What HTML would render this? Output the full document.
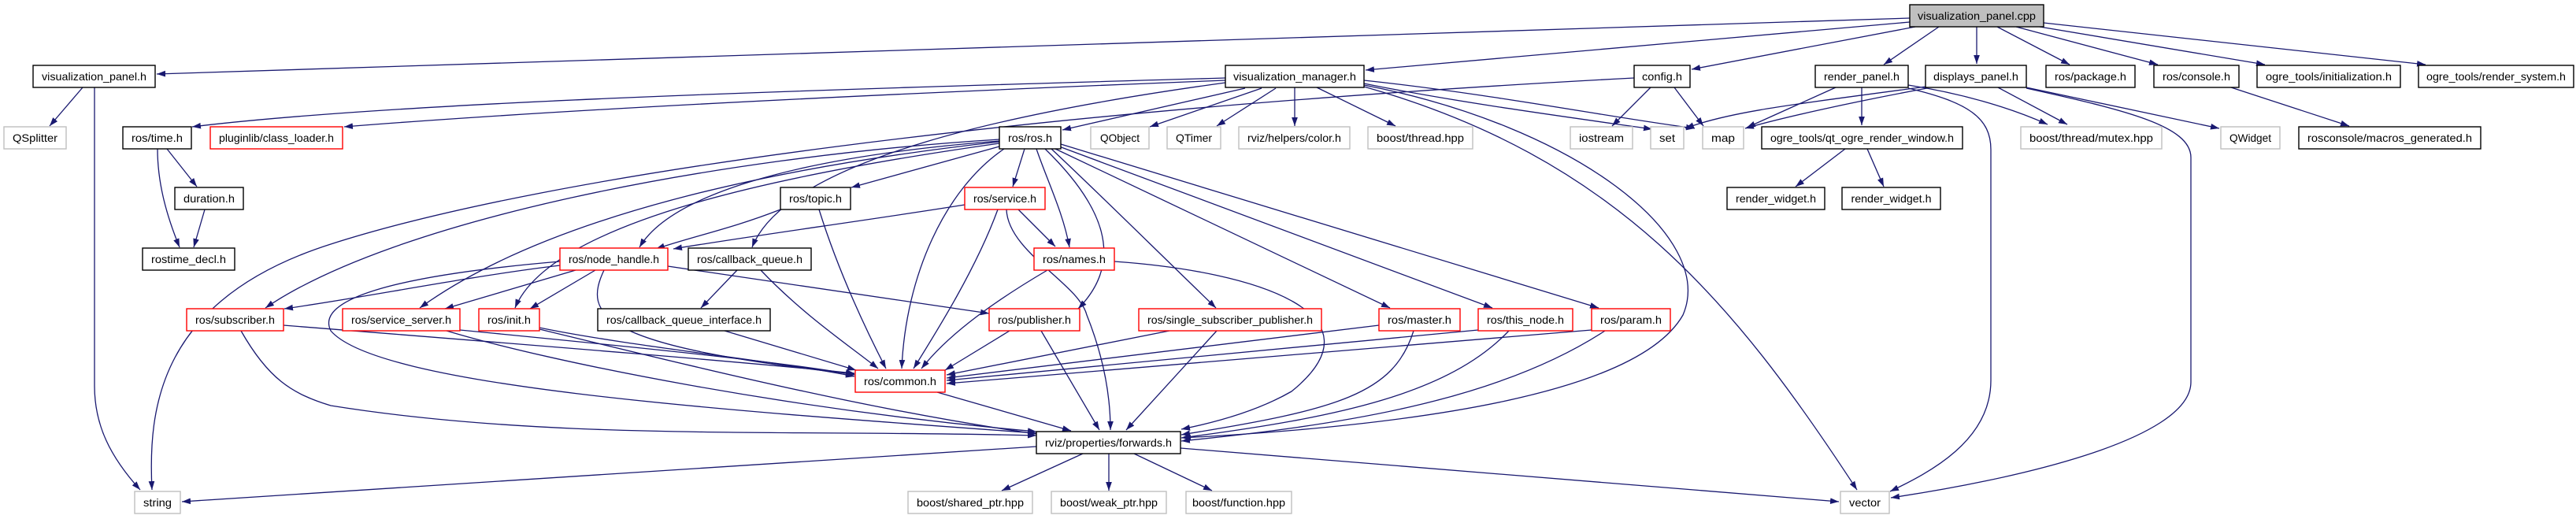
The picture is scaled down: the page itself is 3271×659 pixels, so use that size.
<!DOCTYPE html>
<html><head><meta charset="utf-8"><style>
html,body{margin:0;padding:0;background:#fff;}
svg{display:block;}
text{font-family:"Liberation Sans",sans-serif;font-size:14px;fill:#000;}
.e{fill:none;stroke:#191970;stroke-width:1.3;marker-end:url(#a);}
</style></head><body>
<svg width="3271" height="659" viewBox="0 0 3271 659" xmlns="http://www.w3.org/2000/svg">
<defs><marker id="a" markerUnits="userSpaceOnUse" viewBox="0 0 10 7" refX="10" refY="3.5" markerWidth="11" markerHeight="8" orient="auto"><path d="M0,0 L10,3.5 L0,7 z" fill="#191970"/></marker></defs>
<g>
<path class="e" d="M2425,23 L199,94"/>
<path class="e" d="M2425,28 L1734,89"/>
<path class="e" d="M2432,34 L2148,88"/>
<path class="e" d="M2462,34 L2392,82"/>
<path class="e" d="M2510,34 L2510,81"/>
<path class="e" d="M2536,34 L2628,82"/>
<path class="e" d="M2560,34 L2740,82"/>
<path class="e" d="M2590,34 L2876,82"/>
<path class="e" d="M2595,29 L3080,82"/>
<path class="e" d="M105,111 L63,160"/>
<path class="e" d="M120,111 L120,490 C120,540 140,580 178,622"/>
<path class="e" d="M1556,99 C1000,115 500,130 244,161"/>
<path class="e" d="M1556,102 C1100,120 700,140 437,161"/>
<path class="e" d="M1581,112 L1349,165"/>
<path class="e" d="M1602,112 L1460,161"/>
<path class="e" d="M1620,112 L1545,160"/>
<path class="e" d="M1556,105 C1300,140 1000,200 955,314"/>
<path class="e" d="M1644,111 L1644,160"/>
<path class="e" d="M1672,111 L1772,160"/>
<path class="e" d="M1732,106 C1850,130 2000,150 2098,164"/>
<path class="e" d="M1732,102 C1900,120 2050,150 2152,163"/>
<path class="e" d="M1732,108 C2000,160 2180,300 2137,400 C2080,500 1800,540 1501,556"/>
<path class="e" d="M1732,110 C2050,200 2200,380 2358,622"/>
<path class="e" d="M2096,111 L2047,160"/>
<path class="e" d="M2126,111 L2163,160"/>
<path class="e" d="M2075,99 C1300,140 700,220 420,310 C200,380 188,520 193,622"/>
<path class="e" d="M2331,111 L2218,162"/>
<path class="e" d="M2364,111 L2364,159"/>
<path class="e" d="M2423,108 C2500,120 2560,140 2600,158"/>
<path class="e" d="M2423,112 C2500,130 2528,150 2528,190 L2528,483 C2528,560 2450,600 2400,624"/>
<path class="e" d="M2445,110 C2300,130 2200,140 2140,163"/>
<path class="e" d="M2447,112 C2350,130 2260,150 2216,163"/>
<path class="e" d="M2537,111 L2625,158"/>
<path class="e" d="M2573,111 L2818,163"/>
<path class="e" d="M2573,112 C2700,140 2782,160 2782,200 L2782,485 C2782,560 2550,610 2401,632"/>
<path class="e" d="M2833,111 L2983,160"/>
<path class="e" d="M2343,189 L2280,237"/>
<path class="e" d="M2371,189 L2392,237"/>
<path class="e" d="M212,189 L250,237"/>
<path class="e" d="M200,189 C200,230 210,270 228,314"/>
<path class="e" d="M260,266 L246,314"/>
<path class="e" d="M1269,186 L1081,238"/>
<path class="e" d="M1301,189 L1286,237"/>
<path class="e" d="M1316,189 C1330,230 1350,270 1358,314"/>
<path class="e" d="M1269,179 C1000,200 850,250 812,314"/>
<path class="e" d="M1269,177 C900,200 500,280 337,391"/>
<path class="e" d="M1269,180 C1000,210 700,270 533,391"/>
<path class="e" d="M1269,182 C1000,220 700,280 654,391"/>
<path class="e" d="M1275,189 C1200,240 1150,350 1145,468"/>
<path class="e" d="M1327,189 C1400,260 1430,330 1369,392"/>
<path class="e" d="M1335,189 C1400,250 1450,300 1544,391"/>
<path class="e" d="M1340,189 L1765,391"/>
<path class="e" d="M1345,186 L1895,391"/>
<path class="e" d="M1347,183 L2030,391"/>
<path class="e" d="M991,266 C930,290 880,300 833,316"/>
<path class="e" d="M1040,266 C1060,330 1090,400 1125,468"/>
<path class="e" d="M1225,260 C1100,280 950,300 855,316"/>
<path class="e" d="M1293,266 L1340,313"/>
<path class="e" d="M1267,266 C1240,340 1190,420 1160,468"/>
<path class="e" d="M1278,266 C1280,320 1370,360 1380,400 C1400,450 1410,500 1410,546"/>
<path class="e" d="M936,343 L890,391"/>
<path class="e" d="M966,343 C1020,400 1080,440 1115,468"/>
<path class="e" d="M920,420 L1087,470"/>
<path class="e" d="M1330,343 C1250,390 1200,430 1170,468"/>
<path class="e" d="M1415,332 C1600,345 1760,400 1640,497 C1600,520 1550,535 1500,545"/>
<path class="e" d="M1282,420 L1200,470"/>
<path class="e" d="M1322,420 L1396,546"/>
<path class="e" d="M1485,420 L1202,476"/>
<path class="e" d="M1545,420 L1430,546"/>
<path class="e" d="M1751,413 L1202,480"/>
<path class="e" d="M1795,420 C1770,500 1700,520 1500,552"/>
<path class="e" d="M1877,419 L1202,483"/>
<path class="e" d="M1916,420 C1840,500 1700,530 1500,556"/>
<path class="e" d="M2021,419 L1202,487"/>
<path class="e" d="M2038,420 C1900,510 1700,540 1500,560"/>
<path class="e" d="M711,337 C600,350 450,380 361,392"/>
<path class="e" d="M731,343 L565,392"/>
<path class="e" d="M756,343 L673,392"/>
<path class="e" d="M848,338 L1256,398"/>
<path class="e" d="M767,343 C740,400 760,440 1085,475"/>
<path class="e" d="M711,332 C500,350 400,380 420,420 C480,490 900,520 1316,550"/>
<path class="e" d="M360,413 C700,440 950,460 1085,474"/>
<path class="e" d="M306,420 C340,480 370,500 420,515 C700,560 1000,545 1316,553"/>
<path class="e" d="M584,419 C800,440 1000,460 1085,476"/>
<path class="e" d="M567,420 C700,460 1000,520 1316,548"/>
<path class="e" d="M685,416 C800,440 1000,460 1085,478"/>
<path class="e" d="M685,418 C900,470 1100,520 1316,551"/>
<path class="e" d="M1190,498 L1360,547"/>
<path class="e" d="M1375,576 L1272,623"/>
<path class="e" d="M1408,576 L1408,623"/>
<path class="e" d="M1440,576 L1539,623"/>
<path class="e" d="M1316,567 L231,637"/>
<path class="e" d="M1499,569 L2335,637"/>
</g>
<g id="nodes">
<!-- black nodes -->
<g fill="#fff" stroke="#000" stroke-width="1.4">
<rect x="2425" y="6" width="170" height="28" fill="#bfbfbf"/>
<rect x="42" y="83" width="155" height="28"/>
<rect x="1556" y="83" width="176" height="28"/>
<rect x="2075" y="83" width="71" height="28"/>
<rect x="2305" y="83" width="118" height="28"/>
<rect x="2445" y="83" width="128" height="28"/>
<rect x="2598" y="83" width="113" height="28"/>
<rect x="2735" y="83" width="108" height="28"/>
<rect x="2866" y="83" width="182" height="28"/>
<rect x="3071" y="83" width="197" height="28"/>
<rect x="156" y="161" width="87" height="28"/>
<rect x="1269" y="161" width="78" height="28"/>
<rect x="2237" y="161" width="255" height="28"/>
<rect x="2919" y="161" width="231" height="28"/>
<rect x="222" y="238" width="87" height="28"/>
<rect x="991" y="238" width="89" height="28"/>
<rect x="2193" y="238" width="124" height="28"/>
<rect x="2339" y="238" width="125" height="28"/>
<rect x="181" y="315" width="117" height="28"/>
<rect x="874" y="315" width="156" height="28"/>
<rect x="759" y="392" width="219" height="28"/>
<rect x="1316" y="548" width="183" height="28"/>
</g>
<g fill="#fff" stroke="#ff0000" stroke-width="1.4">
<rect x="267" y="161" width="168" height="28"/>
<rect x="1225" y="238" width="102" height="28"/>
<rect x="711" y="315" width="137" height="28"/>
<rect x="1313" y="315" width="102" height="28"/>
<rect x="237" y="392" width="123" height="28"/>
<rect x="435" y="392" width="149" height="28"/>
<rect x="608" y="392" width="77" height="28"/>
<rect x="1256" y="392" width="115" height="28"/>
<rect x="1446" y="392" width="232" height="28"/>
<rect x="1751" y="392" width="103" height="28"/>
<rect x="1877" y="392" width="120" height="28"/>
<rect x="2021" y="392" width="100" height="28"/>
<rect x="1086" y="470" width="114" height="28"/>
</g>
<g fill="#fff" stroke="#bfbfbf" stroke-width="1.4">
<rect x="5" y="161" width="79" height="28"/>
<rect x="1385" y="161" width="74" height="28"/>
<rect x="1482" y="161" width="68" height="28"/>
<rect x="1573" y="161" width="141" height="28"/>
<rect x="1737" y="161" width="133" height="28"/>
<rect x="1994" y="161" width="79" height="28"/>
<rect x="2096" y="161" width="42" height="28"/>
<rect x="2162" y="161" width="52" height="28"/>
<rect x="2566" y="161" width="179" height="28"/>
<rect x="2820" y="161" width="75" height="28"/>
<rect x="171" y="624" width="58" height="28"/>
<rect x="1153" y="624" width="158" height="28"/>
<rect x="1335" y="624" width="146" height="28"/>
<rect x="1506" y="624" width="134" height="28"/>
<rect x="2337" y="624" width="62" height="28"/>
</g>
<g text-anchor="middle" lengthAdjust="spacingAndGlyphs">
<text x="2510" y="25" textLength="150" lengthAdjust="spacingAndGlyphs">visualization_panel.cpp</text>
<text x="119.5" y="102" textLength="133" lengthAdjust="spacingAndGlyphs">visualization_panel.h</text>
<text x="1644" y="102" textLength="156" lengthAdjust="spacingAndGlyphs">visualization_manager.h</text>
<text x="2110.5" y="102" textLength="51" lengthAdjust="spacingAndGlyphs">config.h</text>
<text x="2364" y="102" textLength="96" lengthAdjust="spacingAndGlyphs">render_panel.h</text>
<text x="2509" y="102" textLength="108" lengthAdjust="spacingAndGlyphs">displays_panel.h</text>
<text x="2654.5" y="102" textLength="91" lengthAdjust="spacingAndGlyphs">ros/package.h</text>
<text x="2789" y="102" textLength="86" lengthAdjust="spacingAndGlyphs">ros/console.h</text>
<text x="2957" y="102" textLength="160" lengthAdjust="spacingAndGlyphs">ogre_tools/initialization.h</text>
<text x="3169.5" y="102" textLength="177" lengthAdjust="spacingAndGlyphs">ogre_tools/render_system.h</text>
<text x="44.5" y="180" textLength="57" lengthAdjust="spacingAndGlyphs">QSplitter</text>
<text x="199.5" y="180" textLength="65" lengthAdjust="spacingAndGlyphs">ros/time.h</text>
<text x="351" y="180" textLength="146" lengthAdjust="spacingAndGlyphs">pluginlib/class_loader.h</text>
<text x="1308" y="180" textLength="56" lengthAdjust="spacingAndGlyphs">ros/ros.h</text>
<text x="1422" y="180" textLength="50" lengthAdjust="spacingAndGlyphs">QObject</text>
<text x="1516" y="180" textLength="46" lengthAdjust="spacingAndGlyphs">QTimer</text>
<text x="1643.5" y="180" textLength="119" lengthAdjust="spacingAndGlyphs">rviz/helpers/color.h</text>
<text x="1803.5" y="180" textLength="111" lengthAdjust="spacingAndGlyphs">boost/thread.hpp</text>
<text x="2033.5" y="180" textLength="57" lengthAdjust="spacingAndGlyphs">iostream</text>
<text x="2117" y="180" textLength="20" lengthAdjust="spacingAndGlyphs">set</text>
<text x="2188" y="180" textLength="30" lengthAdjust="spacingAndGlyphs">map</text>
<text x="2364.5" y="180" textLength="233" lengthAdjust="spacingAndGlyphs">ogre_tools/qt_ogre_render_window.h</text>
<text x="2655.5" y="180" textLength="157" lengthAdjust="spacingAndGlyphs">boost/thread/mutex.hpp</text>
<text x="2857.5" y="180" textLength="53" lengthAdjust="spacingAndGlyphs">QWidget</text>
<text x="3034.5" y="180" textLength="209" lengthAdjust="spacingAndGlyphs">rosconsole/macros_generated.h</text>
<text x="265.5" y="257" textLength="65" lengthAdjust="spacingAndGlyphs">duration.h</text>
<text x="1035.5" y="257" textLength="67" lengthAdjust="spacingAndGlyphs">ros/topic.h</text>
<text x="1276" y="257" textLength="80" lengthAdjust="spacingAndGlyphs">ros/service.h</text>
<text x="2255" y="257" textLength="102" lengthAdjust="spacingAndGlyphs">render_widget.h</text>
<text x="2401.5" y="257" textLength="102" lengthAdjust="spacingAndGlyphs">render_widget.h</text>
<text x="239.5" y="334" textLength="95" lengthAdjust="spacingAndGlyphs">rostime_decl.h</text>
<text x="779.5" y="334" textLength="115" lengthAdjust="spacingAndGlyphs">ros/node_handle.h</text>
<text x="952" y="334" textLength="134" lengthAdjust="spacingAndGlyphs">ros/callback_queue.h</text>
<text x="1364" y="334" textLength="80" lengthAdjust="spacingAndGlyphs">ros/names.h</text>
<text x="298.5" y="411" textLength="101" lengthAdjust="spacingAndGlyphs">ros/subscriber.h</text>
<text x="509.5" y="411" textLength="127" lengthAdjust="spacingAndGlyphs">ros/service_server.h</text>
<text x="646.5" y="411" textLength="55" lengthAdjust="spacingAndGlyphs">ros/init.h</text>
<text x="868.5" y="411" textLength="197" lengthAdjust="spacingAndGlyphs">ros/callback_queue_interface.h</text>
<text x="1313.5" y="411" textLength="93" lengthAdjust="spacingAndGlyphs">ros/publisher.h</text>
<text x="1562" y="411" textLength="210" lengthAdjust="spacingAndGlyphs">ros/single_subscriber_publisher.h</text>
<text x="1802.5" y="411" textLength="81" lengthAdjust="spacingAndGlyphs">ros/master.h</text>
<text x="1937" y="411" textLength="98" lengthAdjust="spacingAndGlyphs">ros/this_node.h</text>
<text x="2071" y="411" textLength="78" lengthAdjust="spacingAndGlyphs">ros/param.h</text>
<text x="1143" y="489" textLength="92" lengthAdjust="spacingAndGlyphs">ros/common.h</text>
<text x="1407.5" y="567" textLength="161" lengthAdjust="spacingAndGlyphs">rviz/properties/forwards.h</text>
<text x="200" y="643" textLength="36" lengthAdjust="spacingAndGlyphs">string</text>
<text x="1232" y="643" textLength="136" lengthAdjust="spacingAndGlyphs">boost/shared_ptr.hpp</text>
<text x="1408" y="643" textLength="124" lengthAdjust="spacingAndGlyphs">boost/weak_ptr.hpp</text>
<text x="1573" y="643" textLength="118" lengthAdjust="spacingAndGlyphs">boost/function.hpp</text>
<text x="2368" y="643" textLength="40" lengthAdjust="spacingAndGlyphs">vector</text>
</g>
</g>
</svg>
</body></html>
